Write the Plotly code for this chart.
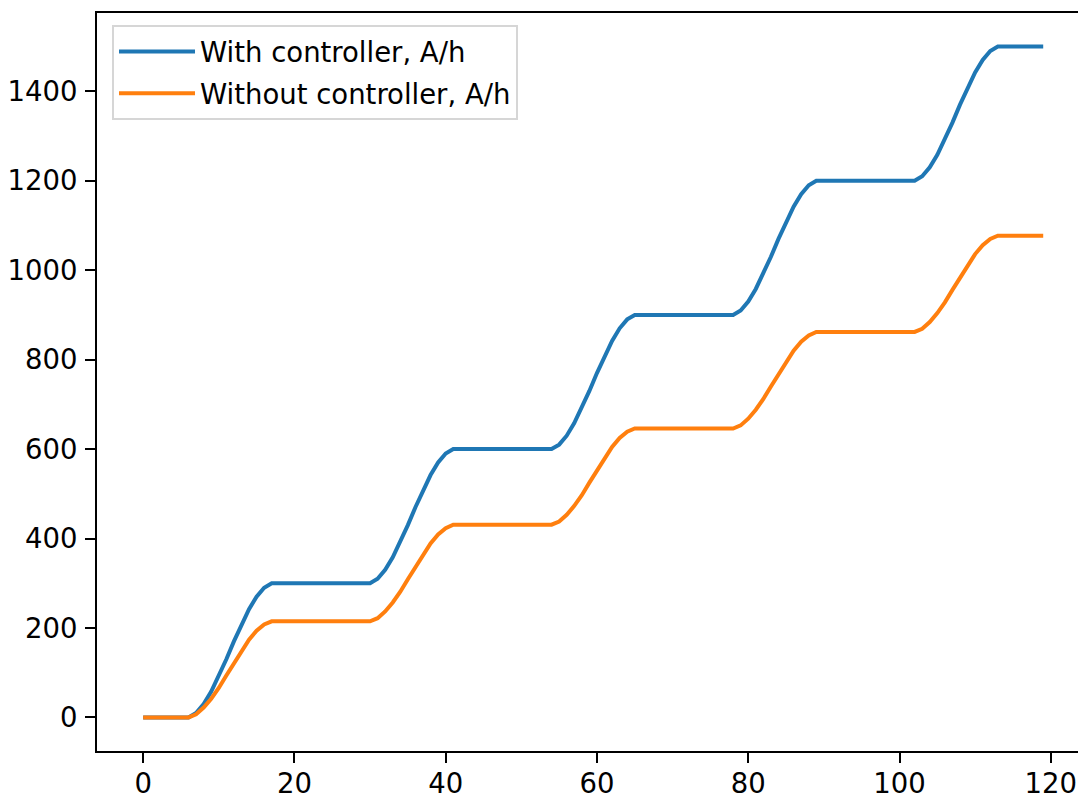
import plotly.graph_objects as go

hours = list(range(120))

with_controller = [
    0, 0, 0, 0, 0, 0, 0, 10, 30, 58, 92, 130, 170, 208, 242, 270, 290, 300, 300, 300, 300, 300, 300, 300,
    300, 300, 300, 300, 300, 300, 300, 310, 330, 358, 392, 430, 470, 508, 542, 570, 590, 600, 600, 600, 600, 600, 600, 600,
    600, 600, 600, 600, 600, 600, 600, 610, 630, 658, 692, 730, 770, 808, 842, 870, 890, 900, 900, 900, 900, 900, 900, 900,
    900, 900, 900, 900, 900, 900, 900, 910, 930, 958, 992, 1030, 1070, 1108, 1142, 1170, 1190, 1200, 1200, 1200, 1200, 1200, 1200, 1200,
    1200, 1200, 1200, 1200, 1200, 1200, 1200, 1210, 1230, 1258, 1292, 1330, 1370, 1408, 1442, 1470, 1490, 1500, 1500, 1500, 1500, 1500, 1500, 1500,
]

without_controller = [
    0, 0, 0, 0, 0, 0, 0, 7, 22, 42, 66, 94, 122, 149, 174, 194, 208, 215, 215, 215, 215, 215, 215, 215,
    215, 215, 215, 215, 215, 215, 215, 222, 237, 257, 281, 309, 337, 364, 389, 409, 423, 431, 431, 431, 431, 431, 431, 431,
    431, 431, 431, 431, 431, 431, 431, 438, 453, 473, 497, 525, 553, 580, 605, 625, 639, 646, 646, 646, 646, 646, 646, 646,
    646, 646, 646, 646, 646, 646, 646, 653, 668, 688, 712, 740, 768, 795, 820, 840, 854, 862, 862, 862, 862, 862, 862, 862,
    862, 862, 862, 862, 862, 862, 862, 869, 884, 904, 928, 956, 984, 1011, 1036, 1056, 1070, 1077, 1077, 1077, 1077, 1077, 1077, 1077,
]

series_names = ["With controller, A/h", "Without controller, A/h"]
x_ticks = [0, 20, 40, 60, 80, 100, 120]
y_ticks = [0, 200, 400, 600, 800, 1000, 1200, 1400]

fig = go.Figure()
fig.add_trace(go.Scatter(x=hours, y=with_controller, mode="lines", name=series_names[0],
                         line=dict(color="#1f77b4", width=4), legendgroup="a"))
fig.add_trace(go.Scatter(x=hours, y=without_controller, mode="lines", name=series_names[1],
                         line=dict(color="#ff7f0e", width=4), legendgroup="b"))

FONT = "DejaVu Sans"
FS = 27.5
axis_common = dict(showgrid=False, zeroline=False, showline=True, linecolor="black", linewidth=2.2,
                   ticks="outside", ticklen=10, tickwidth=2.2, tickcolor="black", automargin=False,
                   tickfont=dict(family=FONT, size=FS, color="black"))

fig.update_layout(
    width=1078, height=795,
    margin=dict(l=97, r=0, t=13, b=44, pad=0),
    paper_bgcolor="white", plot_bgcolor="white",
    font=dict(family=FONT, size=FS, color="black"),
    xaxis=dict(range=[-6.1, 123.6], tickvals=x_ticks, mirror=True, ticklabelstandoff=-3, **axis_common),
    yaxis=dict(range=[-75, 1575], tickvals=y_ticks, mirror=False, ticklabelstandoff=2, **axis_common),
    legend=dict(x=0.0153, y=0.9837, xanchor="left", yanchor="top",
                bgcolor="rgba(255,255,255,0.8)", bordercolor="#d6d6d6", borderwidth=2,
                font=dict(family=FONT, size=FS, color="black"),
                traceorder="grouped", tracegroupgap=3, itemwidth=76),
    showlegend=True,
)

fig.write_html(
    "out.html",
    config={"displayModeBar": False},
    post_script="document.body.style.margin='0';document.body.style.overflow='hidden';",
)
